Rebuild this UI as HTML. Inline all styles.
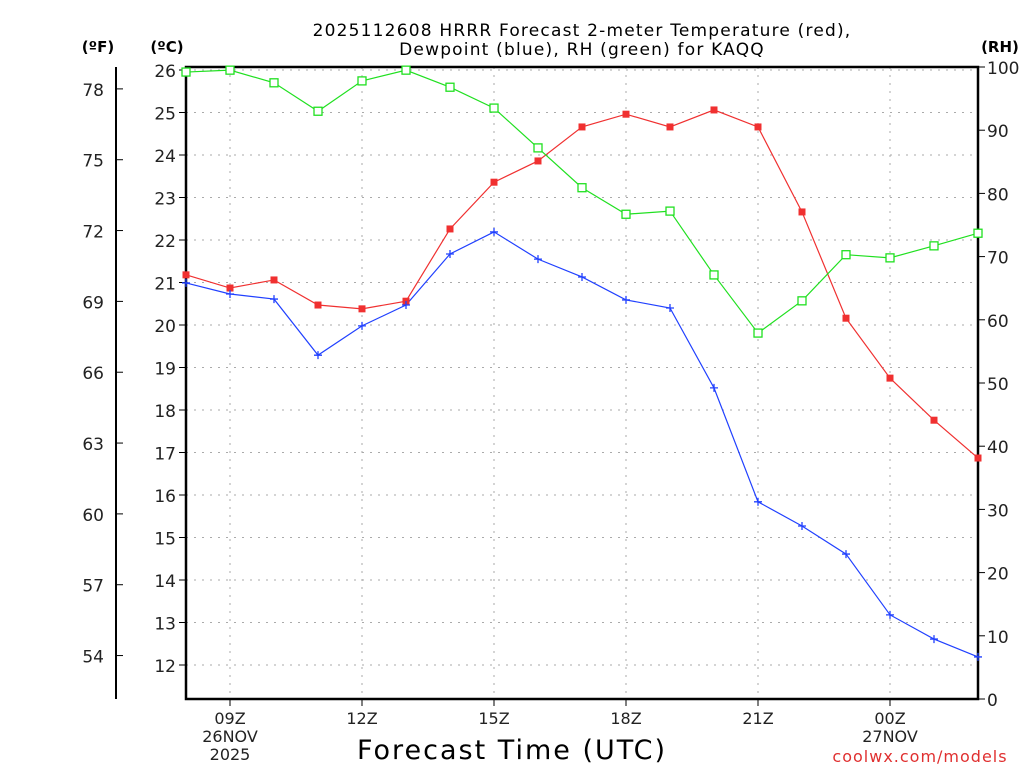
<!DOCTYPE html>
<html><head><meta charset="utf-8"><style>
html,body{margin:0;padding:0;background:#fff;}
svg text{font-family:"DejaVu Sans","Liberation Sans",sans-serif;}
</style></head><body>
<svg id="chart" width="1024" height="768" xmlns="http://www.w3.org/2000/svg">
<g id="grid"></g>
<g id="axes"></g>
<g id="series"></g>
<text x="582" y="36" text-anchor="middle" font-size="17" letter-spacing="1.2" fill="#000">2025112608 HRRR Forecast 2-meter Temperature (red),</text>
<text x="582" y="55" text-anchor="middle" font-size="17" letter-spacing="1.2" fill="#000">Dewpoint (blue), RH (green) for KAQQ</text>
<text x="98" y="52" text-anchor="middle" font-size="15" font-weight="bold">(ºF)</text>
<text x="167" y="52" text-anchor="middle" font-size="15" font-weight="bold">(ºC)</text>
<text x="1000" y="52" text-anchor="middle" font-size="15" font-weight="bold">(RH)</text>
<text x="512" y="759" text-anchor="middle" font-size="27" letter-spacing="2" fill="#000">Forecast Time (UTC)</text>
<text x="920" y="762" text-anchor="middle" font-size="16" fill="#e03030" letter-spacing="1">coolwx.com/models</text>
</svg>
<script>
const hours=[8,9,10,11,12,13,14,15,16,17,18,19,20,21,22,23,24,25,26];
const tempC=[21.18,20.87,21.06,20.47,20.38,20.56,22.26,23.36,23.86,24.66,24.96,24.66,25.06,24.66,22.66,20.16,18.75,17.76,16.87];
const dewC=[20.99,20.73,20.61,19.29,19.98,20.47,21.67,22.19,21.55,21.13,20.59,20.40,18.52,15.84,15.27,14.61,13.18,12.61,12.19];
const rh=[99.2,99.5,97.5,93.0,97.8,99.5,96.8,93.5,87.2,80.9,76.7,77.2,67.1,57.9,63.0,70.3,69.8,71.7,73.7];
const cTicks=[12,13,14,15,16,17,18,19,20,21,22,23,24,25,26];
const fTicks=[54,57,60,63,66,69,72,75,78];
const rhTicks=[0,10,20,30,40,50,60,70,80,90,100];
const xTickHours=[9,12,15,18,21,24];
const xTickLabels=["09Z","12Z","15Z","18Z","21Z","00Z"];
const xTickSub={9:["26NOV","2025"],24:["27NOV"]};

const L=186,R=978,T=67,B=699;
const x=h=>L+(h-8)*(R-L)/18;
const yC=c=>70+(26-c)*42.5;
const yF=f=>yC((f-32)/1.8);
const yR=r=>B-r*(B-T)/100;
const NS="http://www.w3.org/2000/svg";
function mk(tag,attrs,parent){const e=document.createElementNS(NS,tag);for(const k in attrs)e.setAttribute(k,attrs[k]);parent.appendChild(e);return e;}
const grid=document.getElementById('grid'),axes=document.getElementById('axes'),series=document.getElementById('series');

cTicks.forEach(c=>{
  const l=mk('line',{x1:L,x2:R,y1:yC(c),y2:yC(c),stroke:'#aaa','stroke-dasharray':'2,6'},grid);
  
  
  const t=mk('line',{x1:L-7,x2:L,y1:yC(c),y2:yC(c),stroke:'#000'},axes);
  
  
  const tx=mk('text',{x:L-10,y:yC(c)+7,'text-anchor':'end','font-size':'17',fill:'#222'},axes);
  
  
  tx.textContent=c;
});
xTickHours.forEach((h,i)=>{
  const l=mk('line',{x1:x(h),x2:x(h),y1:T,y2:B,stroke:'#aaa','stroke-dasharray':'2,6'},grid);
  
  
  const t=mk('line',{x1:x(h),x2:x(h),y1:B,y2:B+7,stroke:'#000'},axes);
  
  
  const lines=[xTickLabels[i]].concat(xTickSub[h]||[]);
  lines.forEach((s,j)=>{
    const tx=mk('text',{x:x(h),y:724+j*18,'text-anchor':'middle','font-size':'16',fill:'#222'},axes);
    
    
    tx.textContent=s;
  });
});
fTicks.forEach(f=>{
  const t=mk('line',{x1:116,x2:123,y1:yF(f),y2:yF(f),stroke:'#000'},axes);
  
  
  const tx=mk('text',{x:104,y:yF(f)+7,'text-anchor':'end','font-size':'17',fill:'#222'},axes);
  
  
  tx.textContent=f;
});
rhTicks.forEach(r=>{
  const t=mk('line',{x1:R,x2:R+7,y1:yR(r),y2:yR(r),stroke:'#000'},axes);
  
  
  const tx=mk('text',{x:987,y:yR(r)+7,'text-anchor':'start','font-size':'17',fill:'#222'},axes);
  
  
  tx.textContent=r;
});
const fl=mk('line',{x1:116,x2:116,y1:T,y2:B,stroke:'#000','stroke-width':2},axes);


const frame=mk('rect',{x:L,y:T,width:R-L,height:B-T,fill:'none',stroke:'#000','stroke-width':2.5},axes);



function line(vals,fy,color,name){
  const p=mk('polyline',{points:vals.map((v,i)=>x(hours[i])+','+fy(v)).join(' '),fill:'none',stroke:color,'stroke-width':1.2},series);
  
  
}
line(tempC,yC,'#f03030','temperature');
line(dewC,yC,'#2040ff','dewpoint');
line(rh,yR,'#20e020','rh');
tempC.forEach((v,i)=>{
  const m=mk('rect',{x:x(hours[i])-3.5,y:yC(v)-3.5,width:7,height:7,fill:'#f03030'},series);
  
  
});
dewC.forEach((v,i)=>{
  const m=mk('path',{d:`M${x(hours[i])-4},${yC(v)}h8M${x(hours[i])},${yC(v)-4}v8`,stroke:'#2040ff','stroke-width':1.3},series);
  
  
});
rh.forEach((v,i)=>{
  const m=mk('rect',{x:x(hours[i])-4,y:yR(v)-4,width:8,height:8,fill:'#fff',stroke:'#20e020','stroke-width':1.3},series);
  
  
});
</script>
</body></html>
